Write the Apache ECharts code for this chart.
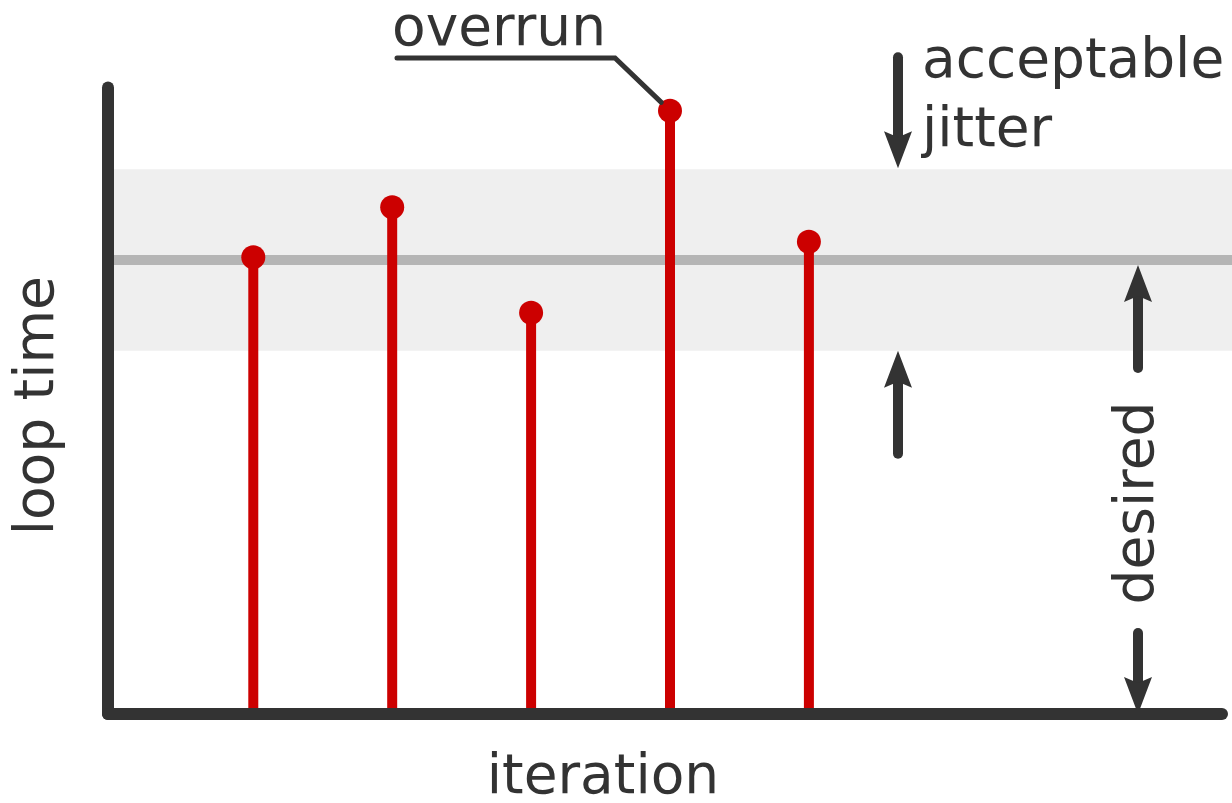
<!DOCTYPE html>
<html>
<head>
<meta charset="utf-8">
<script src="https://cdn.jsdelivr.net/npm/echarts@6/dist/echarts.min.js"></script>
<style>
html,body{margin:0;padding:0;background:#ffffff;}
#chart{width:1232px;height:803px;}
</style>
</head>
<body>
<div id="chart"></div>
<script>
// ---- data ----
const iterations = [1, 2, 3, 4, 5];
const loopTimes = [10.06, 11.16, 8.84, 13.29, 10.40];
const desiredTime = 10;
const jitterBand = [8, 12];
const xRange = [-0.046, 7.974];
const yRange = [0, 13.8];
const axisTitles = ['iteration', 'loop time'];
const annotationTexts = ['overrun', 'acceptable\njitter', 'desired'];

// ---- styles ----
const RED = '#cc0000';
const DARK = '#333333';
const GRAY_LINE = '#b5b5b5';
const BAND = '#efefef';
const FONT_FAMILY = 'DejaVu Sans';
const FONT_SIZE = 55;
const FONT = FONT_SIZE + 'px "' + FONT_FAMILY + '"';

const chart = echarts.init(document.getElementById('chart'), null, {renderer: 'canvas'});
const points = iterations.map((x, i) => [x, loopTimes[i]]);

const hiddenAxis = {show: false};
const option = {
  animation: false,
  backgroundColor: '#ffffff',
  grid: [
    {left: 108, right: 10, top: 87.5, bottom: 89, outerBoundsMode: 'none', containLabel: false},
    {left: 108, right: 0, top: 87.5, bottom: 89, outerBoundsMode: 'none', containLabel: false}
  ],
  xAxis: [
    {
      type: 'value', gridIndex: 0, min: xRange[0], max: xRange[1], z: 10,
      axisLine: {show: true, onZero: false, lineStyle: {color: DARK, width: 12, cap: 'round'}},
      axisTick: {show: false}, axisLabel: {show: false}, splitLine: {show: false},
      name: axisTitles[0], nameLocation: 'middle', nameGap: 37,
      nameTextStyle: {fontFamily: FONT_FAMILY, fontSize: FONT_SIZE, color: DARK, lineHeight: FONT_SIZE, padding: [0, 124, 0, 0]}
    },
    Object.assign({type: 'value', gridIndex: 1, min: 0, max: 1}, hiddenAxis)
  ],
  yAxis: [
    {
      type: 'value', gridIndex: 0, min: yRange[0], max: yRange[1], z: 10,
      axisLine: {show: true, onZero: false, lineStyle: {color: DARK, width: 12, cap: 'round'}},
      axisTick: {show: false}, axisLabel: {show: false}, splitLine: {show: false},
      name: axisTitles[1], nameLocation: 'middle', nameGap: 42, nameRotate: 90,
      nameTextStyle: {fontFamily: FONT_FAMILY, fontSize: FONT_SIZE, color: DARK, lineHeight: FONT_SIZE, padding: [0, 10, 0, 0]}
    },
    Object.assign({type: 'value', gridIndex: 1, min: yRange[0], max: yRange[1]}, hiddenAxis)
  ],
  series: [
    {
      type: 'line', xAxisIndex: 1, yAxisIndex: 1, silent: true, z: 2,
      data: [[0, desiredTime], [1, desiredTime]],
      symbol: 'none',
      lineStyle: {color: GRAY_LINE, width: 10},
      markArea: {
        silent: true, z: 1,
        itemStyle: {color: BAND, borderWidth: 0},
        data: [[{xAxis: 0, yAxis: jitterBand[0]}, {xAxis: 1, yAxis: jitterBand[1]}]]
      }
    },
    {
      type: 'bar', xAxisIndex: 0, yAxisIndex: 0, silent: true, z: 3,
      data: points, barWidth: 10,
      itemStyle: {color: RED, opacity: 1}
    },
    {
      type: 'scatter', xAxisIndex: 0, yAxisIndex: 0, silent: true, z: 4,
      data: points, symbol: 'circle', symbolSize: 24,
      itemStyle: {color: RED, opacity: 1}
    }
  ]
};
chart.setOption(option);

// ---- annotations anchored to data positions ----
const g = [];
function arrow(x, tip, tail) {
  const dir = tip > tail ? 1 : -1;
  const L = 37, W = 14, N = 6;
  g.push({type: 'line', silent: true, z: 5,
    shape: {x1: x, y1: tail, x2: x, y2: tip - dir * (L - N)},
    style: {stroke: DARK, lineWidth: 10, lineCap: 'round'}});
  g.push({type: 'polygon', silent: true, z: 5,
    shape: {points: [[x, tip], [x - W, tip - dir * L], [x, tip - dir * (L - N)], [x + W, tip - dir * L]]},
    style: {fill: DARK}});
}
const bandTopY = chart.convertToPixel({yAxisIndex: 0}, jitterBand[1]);
const bandBotY = chart.convertToPixel({yAxisIndex: 0}, jitterBand[0]);
const desiredY = chart.convertToPixel({yAxisIndex: 0}, desiredTime);
const zeroY = chart.convertToPixel({yAxisIndex: 0}, 0);
const jitterX = 898, desiredX = 1138;

arrow(jitterX, bandTopY - 1, bandTopY - 112);
arrow(jitterX, bandBotY, bandBotY + 103);
arrow(desiredX, desiredY + 5, desiredY + 108);
arrow(desiredX, zeroY, zeroY - 81);

const iMax = loopTimes.indexOf(Math.max.apply(null, loopTimes));
const op = chart.convertToPixel({gridIndex: 0}, points[iMax]);
const ox = op[0], oy = op[1];
const ly = oy - 52.7;
g.push({type: 'polyline', silent: true, z: 5,
  shape: {points: [[ox - 273, ly], [ox - 55, ly], [ox - 8.7, oy - 8.3]]},
  style: {stroke: DARK, lineWidth: 5, lineCap: 'round', lineJoin: 'miter', fill: null}});
g.push({type: 'text', silent: true, z: 5, x: ox - 278, y: ly - 27.5,
  style: {text: annotationTexts[0], font: FONT, fill: DARK, align: 'left', verticalAlign: 'middle'}});
g.push({type: 'text', silent: true, z: 5, x: 922, y: 97.5,
  style: {text: annotationTexts[1], font: FONT, fill: DARK, align: 'left', verticalAlign: 'middle', lineHeight: 69}});
g.push({type: 'text', silent: true, z: 5, x: 1139, y: 503, rotation: Math.PI / 2,
  style: {text: annotationTexts[2], font: FONT, fill: DARK, align: 'center', verticalAlign: 'middle'}});

chart.setOption({graphic: {elements: g}});
</script>
</body>
</html>
